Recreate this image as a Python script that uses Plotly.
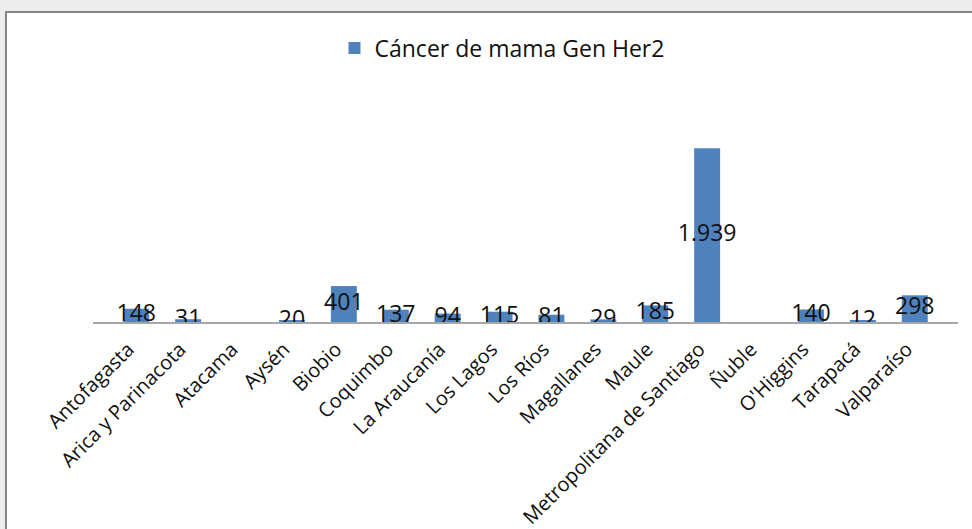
import plotly.graph_objects as go

# -----------------------------
# Data
# -----------------------------

regiones = [
    "Antofagasta", "Arica y Parinacota", "Atacama", "Aysén", "Biobio",
    "Coquimbo", "La Araucanía", "Los Lagos", "Los Ríos", "Magallanes",
    "Maule", "Metropolitana de Santiago", "Ñuble", "O'Higgins",
    "Tarapacá", "Valparaíso",
]
casos = [148, 31, None, 20, 401, 137, 94, 115, 81, 29, 185, 1939, None, 140, 12, 298]

serie = "Cáncer de mama Gen Her2"
etiquetas = ["" if v is None else f"{v:,}".replace(",", ".") for v in casos]
medios = [None if v is None else v / 2 for v in casos]

# -----------------------------
# Layout geometry (pixels)
# -----------------------------

W, H = 972, 529
L, R, T, B = 93, 14, 98, 207
pw, ph = W - L - R, H - T - B


def px_x(p):
    return (p - L) / pw


def px_y(p):
    return (H - B - p) / ph


# -----------------------------
# Figure
# -----------------------------

fig = go.Figure()

fig.add_trace(go.Bar(
    x=regiones,
    y=casos,
    name=serie,
    marker=dict(color="#4f81bd", line=dict(width=0)),
))

fig.add_trace(go.Scatter(
    x=regiones,
    y=medios,
    text=etiquetas,
    mode="text",
    textposition="middle center",
    textfont=dict(size=23, color="#111111", family="Open Sans"),
    showlegend=False,
    hoverinfo="skip",
))

fig.update_layout(
    width=W,
    height=H,
    margin=dict(l=L, r=R, t=T, b=B, autoexpand=False),
    paper_bgcolor="#ededed",
    plot_bgcolor="rgba(0,0,0,0)",
    font=dict(family="Open Sans", size=16, color="#111111"),
    bargap=0.5,
    showlegend=True,
    legend=dict(
        orientation="h",
        x=px_x(502), xanchor="center",
        y=px_y(48), yanchor="middle",
        font=dict(size=23),
        itemwidth=30,
        bgcolor="rgba(0,0,0,0)",
    ),
    shapes=[dict(
        type="rect", xref="paper", yref="paper", layer="below",
        x0=px_x(6), x1=px_x(W + 20), y0=px_y(H + 20), y1=px_y(12),
        fillcolor="white", line=dict(color="#858585", width=2),
    )],
)

fig.update_xaxes(
    tickangle=-45,
    showline=True,
    linecolor="#a6a6a6",
    linewidth=1.5,
    ticks="",
    automargin=False,
    tickfont=dict(size=20),
    ticklabelshift=-8,
    ticklabelstandoff=6,
)

fig.update_yaxes(
    range=[0, 2500],
    visible=False,
    showgrid=False,
    zeroline=False,
    automargin=False,
)

fig.write_html(
    "out.html",
    config={"displayModeBar": False},
    post_script="document.body.style.margin = '0';",
)
